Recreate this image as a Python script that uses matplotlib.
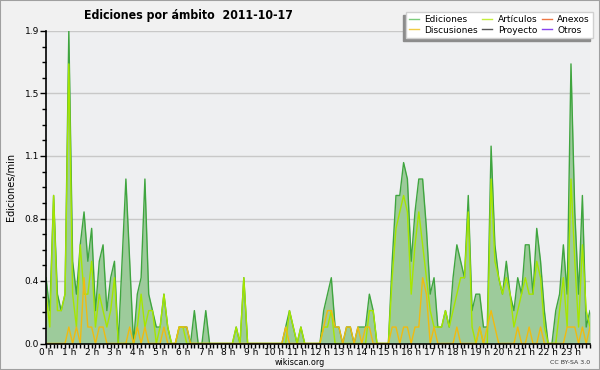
import matplotlib
matplotlib.use("Agg")
import matplotlib.pyplot as plt
from matplotlib.lines import Line2D
from matplotlib.patches import Rectangle
from matplotlib.ticker import FixedLocator, MultipleLocator
import numpy as np

title = "Ediciones por ámbito  2011-10-17"
ylabel = "Ediciones/min"
hour_labels = [f"{h} h" for h in range(24)]

ediciones = [
    0.4, 0.2, 0.9, 0.3, 0.2, 0.3, 1.9, 0.5, 0.3, 0.6, 0.8, 0.5,
    0.7, 0.2, 0.5, 0.6, 0.2, 0.4, 0.5, 0.0, 0.5, 1.0, 0.5, 0.0,
    0.3, 0.4, 1.0, 0.3, 0.2, 0.1, 0.1, 0.3, 0.1, 0.0, 0.0, 0.1,
    0.1, 0.1, 0.0, 0.2, 0.0, 0.0, 0.2, 0.0, 0.0, 0.0, 0.0, 0.0,
    0.0, 0.0, 0.1, 0.0, 0.4, 0.0, 0.0, 0.0, 0.0, 0.0, 0.0, 0.0,
    0.0, 0.0, 0.0, 0.1, 0.2, 0.1, 0.0, 0.1, 0.0, 0.0, 0.0, 0.0,
    0.0, 0.2, 0.3, 0.4, 0.1, 0.1, 0.0, 0.1, 0.1, 0.0, 0.1, 0.1,
    0.1, 0.3, 0.2, 0.0, 0.0, 0.0, 0.0, 0.5, 0.9, 0.9, 1.1, 1.0,
    0.5, 0.8, 1.0, 1.0, 0.7, 0.3, 0.4, 0.1, 0.1, 0.2, 0.1, 0.4,
    0.6, 0.5, 0.4, 0.9, 0.2, 0.3, 0.3, 0.1, 0.1, 1.2, 0.6, 0.4,
    0.3, 0.5, 0.3, 0.2, 0.4, 0.3, 0.6, 0.6, 0.3, 0.7, 0.5, 0.2,
    0.0, 0.0, 0.2, 0.3, 0.6, 0.3, 1.7, 0.8, 0.3, 0.9, 0.1, 0.2,
]
articulos = [
    0.3, 0.1, 0.9, 0.2, 0.2, 0.3, 1.7, 0.3, 0.1, 0.6, 0.3, 0.3,
    0.5, 0.1, 0.3, 0.2, 0.1, 0.2, 0.4, 0.0, 0.0, 0.0, 0.0, 0.0,
    0.1, 0.3, 0.1, 0.2, 0.2, 0.0, 0.1, 0.3, 0.1, 0.0, 0.0, 0.1,
    0.1, 0.0, 0.0, 0.0, 0.0, 0.0, 0.0, 0.0, 0.0, 0.0, 0.0, 0.0,
    0.0, 0.0, 0.1, 0.0, 0.4, 0.0, 0.0, 0.0, 0.0, 0.0, 0.0, 0.0,
    0.0, 0.0, 0.0, 0.0, 0.2, 0.1, 0.0, 0.1, 0.0, 0.0, 0.0, 0.0,
    0.0, 0.1, 0.1, 0.2, 0.0, 0.0, 0.0, 0.0, 0.0, 0.0, 0.0, 0.0,
    0.0, 0.2, 0.2, 0.0, 0.0, 0.0, 0.0, 0.4, 0.7, 0.8, 0.9, 0.8,
    0.3, 0.6, 0.8, 0.6, 0.4, 0.2, 0.1, 0.1, 0.1, 0.2, 0.1, 0.2,
    0.3, 0.4, 0.4, 0.8, 0.1, 0.0, 0.1, 0.0, 0.0, 1.0, 0.5, 0.4,
    0.3, 0.4, 0.3, 0.1, 0.2, 0.3, 0.4, 0.3, 0.3, 0.5, 0.4, 0.1,
    0.0, 0.0, 0.0, 0.2, 0.4, 0.1, 1.0, 0.5, 0.1, 0.6, 0.2, 0.1,
]
discusiones = [
    0.0, 0.0, 0.0, 0.0, 0.0, 0.0, 0.1, 0.0, 0.1, 0.0, 0.4, 0.1,
    0.1, 0.0, 0.1, 0.1, 0.0, 0.0, 0.0, 0.0, 0.0, 0.0, 0.1, 0.0,
    0.1, 0.0, 0.1, 0.0, 0.0, 0.0, 0.0, 0.1, 0.0, 0.0, 0.0, 0.1,
    0.1, 0.1, 0.0, 0.0, 0.0, 0.0, 0.0, 0.0, 0.0, 0.0, 0.0, 0.0,
    0.0, 0.0, 0.0, 0.0, 0.0, 0.0, 0.0, 0.0, 0.0, 0.0, 0.0, 0.0,
    0.0, 0.0, 0.0, 0.1, 0.0, 0.0, 0.0, 0.0, 0.0, 0.0, 0.0, 0.0,
    0.0, 0.1, 0.2, 0.2, 0.1, 0.1, 0.0, 0.1, 0.1, 0.0, 0.1, 0.0,
    0.1, 0.1, 0.0, 0.0, 0.0, 0.0, 0.0, 0.1, 0.1, 0.0, 0.1, 0.1,
    0.0, 0.1, 0.1, 0.4, 0.3, 0.0, 0.1, 0.0, 0.0, 0.0, 0.0, 0.0,
    0.1, 0.0, 0.0, 0.0, 0.0, 0.0, 0.1, 0.0, 0.1, 0.2, 0.1, 0.0,
    0.0, 0.0, 0.0, 0.0, 0.1, 0.0, 0.0, 0.1, 0.0, 0.0, 0.1, 0.0,
    0.0, 0.0, 0.0, 0.0, 0.0, 0.1, 0.1, 0.1, 0.0, 0.1, 0.0, 0.1,
]
anexos = [0.0] * 144
proyecto = [0.0] * 144
otros = [0.0] * 144

series_names = ["Ediciones", "Discusiones", "Artículos", "Proyecto", "Anexos", "Otros"]
legend_colors = {"Ediciones": "#7ccc7c", "Artículos": "#c4ee3c", "Anexos": "#ee7744",
                 "Discusiones": "#f0cc44", "Proyecto": "#555555", "Otros": "#8844ee"}

x = np.arange(len(ediciones))

fig = plt.figure(figsize=(6.0, 3.7), dpi=100)
fig.patch.set_facecolor("#f1f1f1")
fig.patches.append(Rectangle((0, 0), 1, 1, transform=fig.transFigure, fill=False,
                             edgecolor="#a0a0a0", linewidth=1.5, zorder=0))

ax = fig.add_axes([46/600, 1-343.5/370, (590-46)/600, (343.5-31)/370])
ax.set_facecolor("#eeeff1")

ymax = max(ediciones)
for s, c in ((anexos, "#ee7744"), (proyecto, "#555555"), (otros, "#8844ee")):
    ax.plot(x, s, color=c, lw=0.8, zorder=1)
ax.fill_between(x, 0, ediciones, color="#9dcb9b", linewidth=0, zorder=2)
ax.plot(x, ediciones, color="#3fa53f", lw=1.0, zorder=3)
ax.plot(x, articulos, color="#a6e600", lw=1.0, zorder=4)
ax.plot(x, discusiones, color="#f0bb10", lw=1.0, zorder=5)

ax.set_xlim(0, len(ediciones) - 1)
ax.set_ylim(0, ymax)

yt = [ymax * k / 5 for k in range(6)]
ax.yaxis.set_major_locator(FixedLocator(yt))
ax.set_yticklabels([f"{v:.1f}" for v in yt])
ax.yaxis.set_minor_locator(FixedLocator([ymax * k / 20 for k in range(21)]))
ax.grid(axis="y", which="major", color="#c8c8c8", linewidth=1.0, zorder=0)
ax.set_axisbelow(True)

ax.xaxis.set_major_locator(FixedLocator(list(range(0, 144, 6))))
ax.set_xticklabels(hour_labels)
ax.xaxis.set_minor_locator(MultipleLocator(1))

ax.tick_params(axis="y", which="major", length=4, width=1, color="black",
               labelsize=6.5, pad=1)
ax.tick_params(axis="y", which="minor", length=3, width=1, color="black")
ax.tick_params(axis="x", which="major", length=3, width=1, color="black",
               labelsize=6.5, pad=0)
ax.tick_params(axis="x", which="minor", length=3, width=1, color="black")

for side in ("top", "right"):
    ax.spines[side].set_visible(False)
for side in ("left", "bottom"):
    ax.spines[side].set_linewidth(1.2)
    ax.spines[side].set_zorder(6)

ax.set_ylabel(ylabel, fontsize=7, labelpad=6)

fig.text(188/600, 1-16/370, title, ha="center", va="center", fontsize=8.8,
         fontweight="bold", fontstretch="condensed")
fig.text(0.5, 1-362.5/370, "wikiscan.org", ha="center", va="center", fontsize=5.8)
fig.text(590/600, 1-362.5/370, "CC BY-SA 3.0", ha="right", va="center", fontsize=4.5,
         color="#333333")

handles = [Line2D([0], [0], color=legend_colors[n], lw=1.0) for n in series_names]
leg = fig.legend(handles, series_names, ncol=3, loc="upper right",
                 bbox_to_anchor=(593/600, 1-12/370), fontsize=6.5,
                 frameon=True, fancybox=False, edgecolor="#d0d0d0",
                 facecolor="white", framealpha=1,
                 shadow={"ox": -2.2, "oy": -2.2, "color": "#8c8c8c", "alpha": 1},
                 handlelength=1.1, handletextpad=0.6, columnspacing=0.5,
                 labelspacing=0.15, borderpad=0.35, borderaxespad=0)
leg.get_frame().set_linewidth(1.0)

fig.savefig("out.png", dpi=100, facecolor=fig.get_facecolor())
